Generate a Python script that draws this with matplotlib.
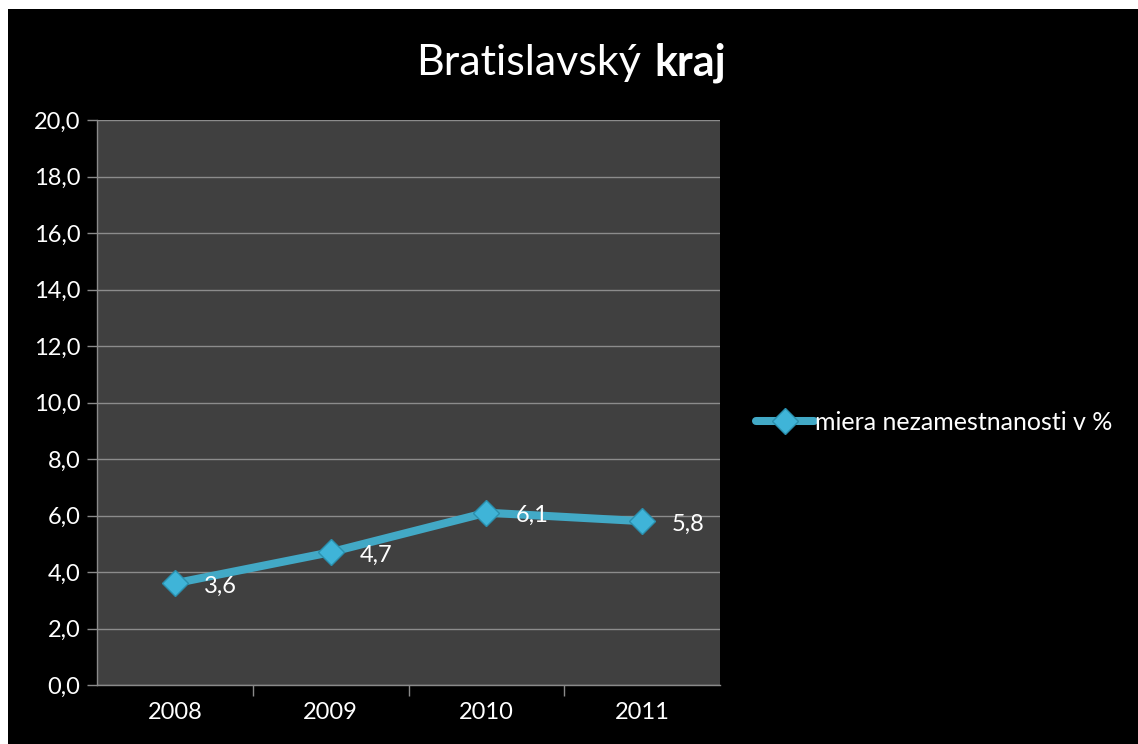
import matplotlib
matplotlib.use("Agg")
import matplotlib.pyplot as plt
from matplotlib.patches import Rectangle

years = ["2008", "2009", "2010", "2011"]
values = [3.6, 4.7, 6.1, 5.8]
value_labels = ["3,6", "4,7", "6,1", "5,8"]
yticks = [0, 2, 4, 6, 8, 10, 12, 14, 16, 18, 20]
ytick_labels = ["0,0", "2,0", "4,0", "6,0", "8,0", "10,0", "12,0", "14,0", "16,0", "18,0", "20,0"]
series_name = "miera nezamestnanosti v %"

plt.rcParams['font.family'] = ['Lato', 'DejaVu Sans']

W, H = 1138, 744
fig = plt.figure(figsize=(W / 100, H / 100), dpi=100)
fig.patch.set_facecolor('white')
# black chart background (white margin at top/left)
fig.add_artist(Rectangle((8 / W, 0), 1, 1 - 9 / H, transform=fig.transFigure,
                         facecolor='black', edgecolor='none', zorder=0))

ax = fig.add_axes([97 / W, 1 - 685 / H, (720 - 97) / W, (685 - 120) / H])
ax.set_facecolor('#404040')
x = list(range(len(years)))
color = '#42A9C6'
ax.plot(x, values, color=color, lw=5.8, marker='D', markersize=13,
        markerfacecolor='#3FB4D8', markeredgecolor='#2A8FAD', markeredgewidth=1,
        label=series_name, zorder=3, solid_capstyle='round')
for xi, v, lab in zip(x, values, value_labels):
    ax.annotate(lab, (xi, v), xytext=(21, -2), textcoords='offset points',
                ha='left', va='center', color='white', fontsize=17, zorder=4)

ax.set_xlim(-0.5, len(years) - 0.5)
ax.set_ylim(0, 20)
ax.set_yticks(yticks)
ax.set_yticklabels(ytick_labels)
ax.set_xticks(x)
ax.set_xticklabels(years)
ax.set_xticks([0.5, 1.5, 2.5], minor=True)
ax.tick_params(axis='x', which='major', length=0, pad=12, labelsize=17, colors='white')
ax.tick_params(axis='x', which='minor', length=8, color='#8a8a8a', width=1)
ax.tick_params(axis='y', length=7, color='#8a8a8a', width=1, labelsize=17, colors='white', pad=5)
ax.yaxis.grid(True, color='#8c8c8c', lw=1)
ax.set_axisbelow(True)
for s in ['top', 'right']:
    ax.spines[s].set_visible(False)
for s in ['left', 'bottom']:
    ax.spines[s].set_color('#8a8a8a')
    ax.spines[s].set_linewidth(1)

fig.text(641 / W, 1 - 63 / H, "Bratislavský", ha='right', va='center', color='white', fontsize=31)
fig.text(654 / W, 1 - 63 / H, "kraj", ha='left', va='center', color='white', fontsize=31, fontweight='bold')

leg = fig.legend(loc='center left', bbox_to_anchor=(756 / W, 1 - 422 / H), frameon=False,
                 fontsize=18, labelcolor='white', handlelength=2.3, handletextpad=0.05,
                 borderpad=0, borderaxespad=0)

fig.savefig('out.png', dpi=100, facecolor=fig.get_facecolor())
